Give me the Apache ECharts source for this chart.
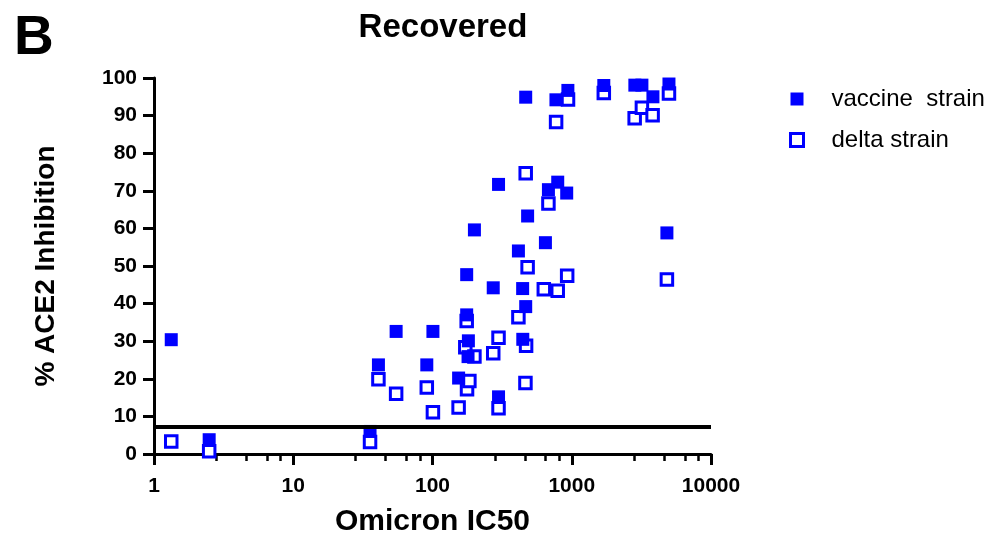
<!DOCTYPE html>
<html>
<head>
<meta charset="utf-8">
<script src="https://cdn.jsdelivr.net/npm/echarts@6/dist/echarts.min.js"></script>
<style>html,body{margin:0;padding:0;background:#fff;}#c{width:1000px;height:548px;}</style>
</head>
<body>
<div id="c"></div>
<script>
// ---- data ----
const vaccineX = [1.33, 2.49, 35.6, 40.9, 54.8, 91, 100.7, 154, 176, 176, 181, 180, 200, 273, 298, 298, 414, 444, 445, 467, 467, 482, 647, 680, 770, 793, 920, 938, 1699, 2839, 3190, 3828, 4823, 4990];
const vaccineY = [30.4, 3.8, 6.0, 23.7, 32.6, 23.7, 32.6, 20.2, 47.7, 37.0, 30.1, 25.9, 59.6, 44.2, 71.7, 15.2, 54.0, 44.0, 30.5, 39.2, 94.9, 63.3, 56.2, 70.3, 94.2, 72.3, 69.4, 96.7, 98.0, 98.1, 98.1, 95.0, 58.8, 98.4];
const deltaX = [1.33, 2.49, 35.6, 40.9, 54.8, 91, 100.7, 154, 172, 176, 177, 184, 200, 273, 298, 298, 414, 465, 467, 470, 482, 630, 680, 772, 793, 927, 940, 1699, 2830, 3190, 3808, 4823, 4990];
const deltaY = [3.35, 0.7, 3.2, 19.9, 16.0, 17.7, 11.1, 12.4, 28.4, 35.4, 17.2, 19.4, 25.9, 26.8, 30.9, 12.2, 36.4, 18.9, 74.7, 28.8, 49.7, 43.8, 66.6, 88.3, 43.4, 47.4, 94.3, 96.0, 89.3, 92.1, 90.1, 46.4, 95.9];
const threshold = 7.3;
const seriesNames = ['vaccine  strain', 'delta strain'];
const xMajorTicks = [1, 10, 100, 1000, 10000];
const xMinorFractions = [2.8, 4.6, 6.5, 8.1];
const yTicks = [0, 10, 20, 30, 40, 50, 60, 70, 80, 90, 100];

const minorTicks = [];
xMajorTicks.slice(0, -1).forEach(function (d) {
  xMinorFractions.forEach(function (f) { minorTicks.push(d * f); });
});
const pair = (xs, ys) => xs.map((x, i) => [x, ys[i]]);

const FONT = '"Liberation Sans", Arial, sans-serif';
const BLUE = '#0000ff';

const chart = echarts.init(document.getElementById('c'), null, {renderer: 'canvas'});
chart.setOption({
  animation: false,
  backgroundColor: '#fff',
  title: [
    {text: 'B', left: 14, top: 11, padding: 0,
     textStyle: {fontFamily: FONT, fontWeight: 'bold', fontSize: 55, color: '#000'}},
    {text: 'Recovered', left: 443, top: 11, padding: 0, textAlign: 'center',
     textStyle: {fontFamily: FONT, fontWeight: 'bold', fontSize: 33, color: '#000'}}
  ],
  legend: {
    orient: 'vertical', left: 789, top: 87, itemGap: 17, padding: 0,
    itemWidth: 13, itemHeight: 13, icon: 'rect',
    textStyle: {fontFamily: FONT, fontSize: 24, color: '#000', padding: [0, 0, 0, 23]},
    data: [
      {name: seriesNames[0], itemStyle: {color: BLUE, borderWidth: 0}},
      {name: seriesNames[1], itemStyle: {color: '#fff', borderColor: BLUE, borderWidth: 3}}
    ],
    selectedMode: false
  },
  grid: {left: 154, top: 78, width: 557, height: 376, containLabel: false},
  xAxis: [
    {type: 'log', logBase: 10, min: 1, max: 10000,
     name: 'Omicron IC50', nameLocation: 'middle', nameGap: 53,
     nameTextStyle: {fontFamily: FONT, fontWeight: 'bold', fontSize: 30, color: '#000'},
     axisLine: {lineStyle: {color: '#000', width: 3}},
     axisTick: {length: 11, lineStyle: {color: '#000', width: 3}, customValues: xMajorTicks},
     axisLabel: {margin: 22, fontFamily: FONT, fontWeight: 'bold', fontSize: 21, color: '#000',
                 customValues: xMajorTicks,
                 formatter: function (v) { return String(Math.round(v)); }},
     splitLine: {show: false}, minorTick: {show: false}},
    {type: 'log', logBase: 10, min: 1, max: 10000, position: 'bottom', gridIndex: 0,
     axisLine: {show: false},
     axisTick: {length: 7, lineStyle: {color: '#000', width: 2.5}, customValues: minorTicks},
     axisLabel: {show: false, customValues: minorTicks},
     splitLine: {show: false}}
  ],
  yAxis: {
    type: 'value', min: 0, max: 100, interval: 10,
    name: '% ACE2 Inhibition', nameLocation: 'middle', nameGap: 94,
    nameTextStyle: {fontFamily: FONT, fontWeight: 'bold', fontSize: 28, color: '#000'},
    axisLine: {show: true, lineStyle: {color: '#000', width: 3}},
    axisTick: {show: true, length: 11, lineStyle: {color: '#000', width: 3}, customValues: yTicks},
    axisLabel: {margin: 17, fontFamily: FONT, fontWeight: 'bold', fontSize: 21, color: '#000', customValues: yTicks},
    splitLine: {show: false}
  },
  series: [
    {name: seriesNames[1], type: 'scatter', symbol: 'rect', symbolSize: 11.5,
     itemStyle: {color: '#fff', borderColor: BLUE, borderWidth: 3, opacity: 1},
     emphasis: {disabled: true},
     data: pair(deltaX, deltaY)},
    {name: seriesNames[0], type: 'scatter', symbol: 'rect', symbolSize: 13,
     itemStyle: {color: BLUE, opacity: 1},
     emphasis: {disabled: true},
     data: pair(vaccineX, vaccineY),
     markLine: {silent: true, symbol: ['none', 'none'], label: {show: false},
                lineStyle: {color: '#000', width: 4, type: 'solid'},
                emphasis: {disabled: true},
                data: [{yAxis: threshold}]}}
  ]
});
</script>
</body>
</html>
